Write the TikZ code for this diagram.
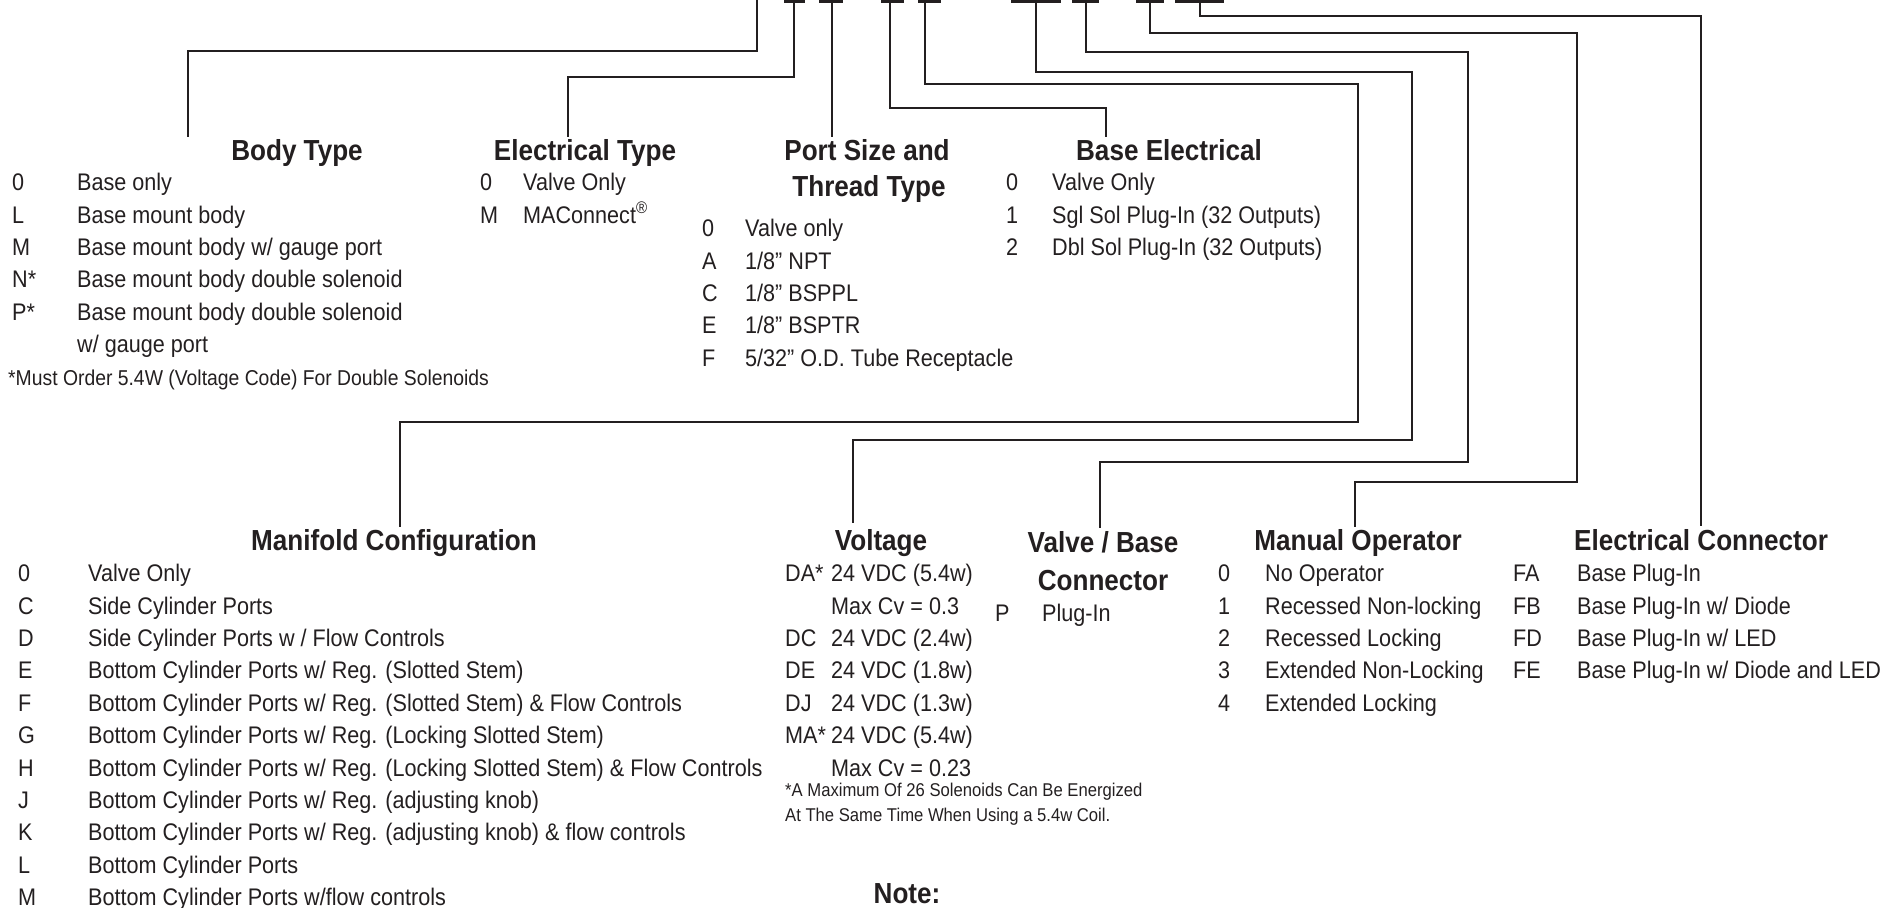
\documentclass[tikz,border=0pt]{standalone}
\usepackage{fontspec}
\setmainfont{Liberation Sans}[FakeStretch=0.9]
\definecolor{ink}{HTML}{231F20}
\newcommand\itmfont{\fontsize{24}{32.4}\selectfont}
\newcommand\hdfont{\fontsize{29}{34}\selectfont\bfseries}
\newcommand\fnfont{\fontsize{18.5}{25}\selectfont}
\tikzset{
  lead/.style={draw=ink, line width=2.6pt},
  hd/.style={font=\hdfont, text=ink, inner sep=0pt, anchor=base, yshift=-10.4pt},
  itm/.style={font=\itmfont, text=ink, inner sep=0pt, anchor=base west, yshift=-8.6pt},
  fnote/.style={font=\fnfont, text=ink, inner sep=0pt, anchor=base west, yshift=-6.6pt},
}
\begin{document}
\begin{tikzpicture}[x=1pt, y=-1pt]
    \useasboundingbox (0,0) rectangle (1902,907);
    % bars of the model code
    \foreach \a/\b in {784/805, 819/843, 881/904, 918/941, 1011/1061, 1072/1099, 1136/1164, 1175/1224} {
        \draw[lead] (\a,1.3) -- (\b,1.3);
    }
    % headings
    \node[hd] (body) at (297,150) {Body Type};
    \node[hd] (elec) at (585,150) {Electrical Type};
    \node[hd] (port) at (867,150) {Port Size and};
    \node[hd] (thread) at (869,186) {Thread Type};
    \node[hd] (base) at (1169,150) {Base Electrical};
    \node[hd] (manif) at (394,540) {Manifold Configuration};
    \node[hd] (volt) at (881,540) {Voltage};
    \node[hd] (vbase) at (1103,542) {Valve / Base};
    \node[hd] (vconn) at (1103,580) {Connector};
    \node[hd] (manop) at (1358,540) {Manual Operator};
    \node[hd] (econn) at (1701,540) {Electrical Connector};
    \node[hd] (note) at (907,893) {Note:};
    % lists
    \node[itm] (bodylist) at (12,182) {\begin{tabular}[t]{@{}p{65pt}@{}l@{}}
        0 & Base only\\ L & Base mount body\\ M & Base mount body w/ gauge port\\
        N* & Base mount body double solenoid\\ P* & Base mount body double solenoid\\
        & w/ gauge port\\
        \multicolumn{2}{@{\hspace{-4pt}}l@{}}{\fontsize{21.5}{32.4}\selectfont *Must Order 5.4W (Voltage Code) For Double Solenoids}
    \end{tabular}};
    \node[itm] (eleclist) at (480,182) {\begin{tabular}[t]{@{}p{43pt}@{}l@{}}
        0 & Valve Only\\ M & MAConnect\textsuperscript{®}
    \end{tabular}};
    \node[itm] (portlist) at (702,228) {\begin{tabular}[t]{@{}p{43pt}@{}l@{}}
        0 & Valve only\\ A & 1/8” NPT\\ C & 1/8” BSPPL\\ E & 1/8” BSPTR\\
        F & 5/32” O.D. Tube Receptacle
    \end{tabular}};
    \node[itm] (baselist) at (1006,182) {\begin{tabular}[t]{@{}p{46pt}@{}l@{}}
        0 & Valve Only\\ 1 & Sgl Sol Plug-In (32 Outputs)\\ 2 & Dbl Sol Plug-In (32 Outputs)
    \end{tabular}};
    \node[itm] (maniflist) at (18,573) {\begin{tabular}[t]{@{}p{70pt}@{}l@{}}
        0 & Valve Only\\ C & Side Cylinder Ports\\ D & Side Cylinder Ports w / Flow Controls\\
        E & Bottom Cylinder Ports w/ Reg. (Slotted Stem)\\
        F & Bottom Cylinder Ports w/ Reg. (Slotted Stem) \& Flow Controls\\
        G & Bottom Cylinder Ports w/ Reg. (Locking Slotted Stem)\\
        H & Bottom Cylinder Ports w/ Reg. (Locking Slotted Stem) \& Flow Controls\\
        J & Bottom Cylinder Ports w/ Reg. (adjusting knob)\\
        K & Bottom Cylinder Ports w/ Reg. (adjusting knob) \& flow controls\\
        L & Bottom Cylinder Ports\\ M & Bottom Cylinder Ports w/flow controls
    \end{tabular}};
    \node[itm] (voltlist) at (785,573) {\begin{tabular}[t]{@{}p{46pt}@{}l@{}}
        DA* & 24 VDC (5.4w)\\ & Max Cv = 0.3\\ DC & 24 VDC (2.4w)\\ DE & 24 VDC (1.8w)\\
        DJ & 24 VDC (1.3w)\\ MA* & 24 VDC (5.4w)\\ & Max Cv = 0.23
    \end{tabular}};
    \node[fnote, align=left] (voltnote) at (785,815) {*A Maximum Of 26 Solenoids Can Be Energized\\At The Same Time When Using a 5.4w Coil.};
    \node[itm] (vbaselist) at (995,613) {\begin{tabular}[t]{@{}p{47pt}@{}l@{}}
        P & Plug-In
    \end{tabular}};
    \node[itm] (manoplist) at (1218,573) {\begin{tabular}[t]{@{}p{47pt}@{}l@{}}
        0 & No Operator\\ 1 & Recessed Non-locking\\ 2 & Recessed Locking\\
        3 & Extended Non-Locking\\ 4 & Extended Locking
    \end{tabular}};
    \node[itm] (econnlist) at (1513,573) {\begin{tabular}[t]{@{}p{64pt}@{}l@{}}
        FA & Base Plug-In\\ FB & Base Plug-In w/ Diode\\ FD & Base Plug-In w/ LED\\
        FE & Base Plug-In w/ Diode and LED
    \end{tabular}};
    % leads from the code to the headings
    \coordinate (tBody) at (757,0);  \coordinate (eBody) at (188,137);
    \coordinate (tElec) at (794,0);  \coordinate (eElec) at (568,137);
    \coordinate (tPort) at (832,0);  \coordinate (ePort) at (832,137);
    \coordinate (tBase) at (890,0);  \coordinate (eBase) at (1106,137);
    \coordinate (tManif) at (925,0); \coordinate (eManif) at (400,527);
    \coordinate (tVolt) at (1036,0); \coordinate (eVolt) at (853,523);
    \coordinate (tVbase) at (1086,0); \coordinate (eVbase) at (1100,528);
    \coordinate (tManop) at (1150,0); \coordinate (eManop) at (1355,527);
    \coordinate (tEconn) at (1200,0); \coordinate (eEconn) at (1701,526);
    \draw[lead] (tBody) |- (eBody |- 0,51) -- (eBody);
    \draw[lead] (tElec) |- (eElec |- 0,77) -- (eElec);
    \draw[lead] (tPort) -- (ePort);
    \draw[lead] (tBase) |- (eBase |- 0,108) -- (eBase);
    \draw[lead] (tManif) |- (1358,84) |- (eManif |- 0,422) -- (eManif);
    \draw[lead] (tVolt) |- (1412,72) |- (eVolt |- 0,440) -- (eVolt);
    \draw[lead] (tVbase) |- (1468,52) |- (eVbase |- 0,462) -- (eVbase);
    \draw[lead] (tManop) |- (1577,33) |- (eManop |- 0,482) -- (eManop);
    \draw[lead] (tEconn) |- (eEconn |- 0,16) -- (eEconn);
\end{tikzpicture}
\end{document}
